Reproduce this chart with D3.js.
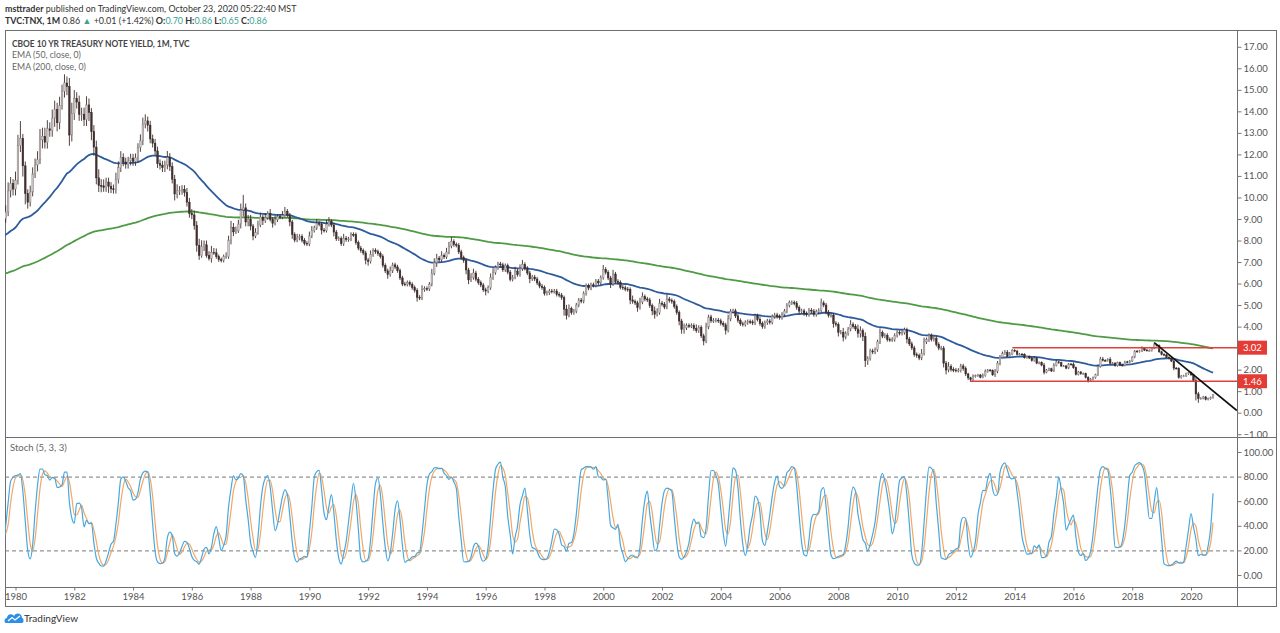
<!DOCTYPE html>
<html>
<head>
<meta charset="utf-8">
<script src="https://cdn.jsdelivr.net/npm/d3@7"></script>
<style>
  body { margin: 0; background: #fff; }
  svg text { font-family: "Lato", "Open Sans", sans-serif; }
</style>
</head>
<body>
<script>
// ---- data (monthly, first row is 1979) ----
var firstYear = 1979;

var closes = [
  [9.10, 9.10, 9.12, 9.18, 9.25, 8.91, 8.95, 9.03, 9.33, 10.30, 10.65, 10.39],
  [10.80, 12.41, 12.75, 11.47, 10.18, 9.78, 10.25, 11.10, 11.51, 11.75, 12.68, 12.84],
  [12.57, 13.19, 13.12, 13.68, 14.10, 13.47, 14.28, 14.94, 15.32, 15.15, 12.90, 13.90],
  [14.59, 14.43, 13.86, 13.87, 13.62, 14.30, 13.95, 13.06, 12.34, 10.91, 10.55, 10.54],
  [10.46, 10.72, 10.51, 10.40, 10.38, 10.85, 11.38, 11.85, 11.65, 11.54, 11.69, 11.83],
  [11.67, 11.84, 12.32, 12.63, 13.41, 13.56, 13.36, 12.72, 12.52, 12.16, 11.57, 11.50],
  [11.38, 11.51, 11.86, 11.43, 10.85, 10.16, 10.31, 10.33, 10.37, 10.24, 9.78, 9.26],
  [9.19, 8.70, 7.78, 7.30, 7.71, 7.80, 7.30, 7.17, 7.45, 7.43, 7.25, 7.11],
  [7.08, 7.25, 7.25, 8.02, 8.61, 8.40, 8.45, 8.76, 9.42, 9.52, 8.86, 8.99],
  [8.67, 8.21, 8.37, 8.72, 9.09, 8.92, 9.06, 9.26, 8.98, 8.80, 8.96, 9.11],
  [9.09, 9.17, 9.36, 9.18, 8.86, 8.28, 8.02, 8.11, 8.19, 8.01, 7.87, 7.84],
  [8.21, 8.47, 8.59, 8.79, 8.76, 8.48, 8.47, 8.75, 8.89, 8.72, 8.39, 8.08],
  [8.09, 7.85, 8.11, 8.04, 8.07, 8.28, 8.27, 7.90, 7.65, 7.53, 7.42, 7.09],
  [7.03, 7.34, 7.54, 7.48, 7.39, 7.26, 6.84, 6.59, 6.42, 6.59, 6.87, 6.77],
  [6.60, 6.26, 5.98, 5.97, 6.04, 5.96, 5.81, 5.68, 5.36, 5.33, 5.72, 5.77],
  [5.75, 5.97, 6.48, 6.97, 7.18, 7.10, 7.30, 7.24, 7.46, 7.74, 7.96, 7.81],
  [7.78, 7.47, 7.20, 7.06, 6.63, 6.17, 6.28, 6.49, 6.20, 6.04, 5.93, 5.71],
  [5.65, 5.81, 6.27, 6.51, 6.74, 6.91, 6.87, 6.64, 6.83, 6.53, 6.20, 6.30],
  [6.58, 6.42, 6.69, 6.89, 6.71, 6.49, 6.22, 6.30, 6.21, 6.03, 5.88, 5.81],
  [5.54, 5.57, 5.65, 5.64, 5.65, 5.50, 5.46, 5.34, 4.81, 4.53, 4.83, 4.65],
  [4.72, 5.00, 5.23, 5.18, 5.54, 5.90, 5.79, 5.94, 5.92, 6.11, 6.03, 6.28],
  [6.66, 6.52, 6.26, 5.99, 6.44, 6.10, 6.05, 5.83, 5.80, 5.74, 5.72, 5.24],
  [5.16, 5.10, 4.89, 5.14, 5.39, 5.28, 5.24, 4.97, 4.73, 4.57, 4.65, 5.09],
  [5.04, 4.91, 5.28, 5.21, 5.16, 4.93, 4.65, 4.26, 3.87, 3.94, 4.05, 4.03],
  [4.05, 3.90, 3.81, 3.96, 3.57, 3.33, 3.98, 4.45, 4.27, 4.29, 4.30, 4.27],
  [4.15, 4.08, 3.83, 4.35, 4.72, 4.73, 4.50, 4.28, 4.13, 4.10, 4.19, 4.23],
  [4.22, 4.17, 4.50, 4.34, 4.14, 4.00, 4.18, 4.26, 4.20, 4.46, 4.54, 4.47],
  [4.42, 4.57, 4.72, 4.99, 5.11, 5.11, 5.09, 4.88, 4.72, 4.73, 4.60, 4.56],
  [4.76, 4.72, 4.56, 4.69, 4.75, 5.10, 5.00, 4.67, 4.52, 4.53, 4.15, 4.10],
  [3.74, 3.74, 3.51, 3.68, 3.88, 4.10, 4.01, 3.89, 3.69, 3.81, 3.53, 2.42],
  [2.52, 2.87, 2.82, 2.93, 3.29, 3.72, 3.56, 3.59, 3.40, 3.39, 3.40, 3.59],
  [3.73, 3.69, 3.73, 3.85, 3.42, 3.20, 3.01, 2.70, 2.65, 2.54, 2.76, 3.29],
  [3.39, 3.58, 3.41, 3.46, 3.17, 3.00, 3.00, 2.30, 1.98, 2.15, 2.01, 1.98],
  [1.97, 1.97, 2.17, 2.05, 1.80, 1.62, 1.53, 1.68, 1.72, 1.75, 1.65, 1.72],
  [1.91, 1.98, 1.96, 1.76, 1.93, 2.30, 2.58, 2.74, 2.81, 2.62, 2.72, 2.90],
  [2.86, 2.71, 2.72, 2.71, 2.56, 2.60, 2.54, 2.42, 2.53, 2.30, 2.33, 2.21],
  [1.88, 1.98, 2.04, 1.94, 2.20, 2.36, 2.32, 2.17, 2.17, 2.07, 2.26, 2.24],
  [2.09, 1.78, 1.89, 1.81, 1.81, 1.64, 1.50, 1.56, 1.63, 1.76, 2.14, 2.49],
  [2.43, 2.42, 2.48, 2.30, 2.30, 2.19, 2.32, 2.21, 2.20, 2.36, 2.35, 2.40],
  [2.58, 2.86, 2.84, 2.87, 2.98, 2.91, 2.89, 2.89, 3.00, 3.15, 3.12, 2.83],
  [2.71, 2.68, 2.57, 2.53, 2.40, 2.07, 2.06, 1.63, 1.70, 1.71, 1.81, 1.86],
  [1.76, 1.50, 0.87, 0.66, 0.67, 0.73, 0.62, 0.65, 0.70, 0.86]
];

// wick beyond the body, in tenths of a point
var wickUp = [
  [1,1,1,1,1,2,1,1,3,4,3,2], [4,5,8,2,2,2,3,3,3,4,5,4], [4,4,3,4,4,3,4,3,4,3,4,5],
  [4,3,3,3,3,4,3,2,3,3,4,3], [3,2,2,2,2,3,3,3,2,2,2,2], [2,2,2,3,3,3,2,2,2,2,2,2],
  [2,2,3,2,2,2,3,2,2,2,2,2], [2,2,2,3,3,2,2,2,3,2,2,1], [1,1,2,2,3,2,2,2,3,6,2,2],
  [2,1,2,2,2,1,2,1,2,1,2,1], [1,2,2,1,1,1,1,2,1,1,1,1], [2,2,1,2,1,1,1,2,2,1,1,1],
  [1,1,2,1,1,1,1,1,1,1,1,1], [1,2,1,1,1,1,1,1,1,2,1,1], [1,1,1,1,1,1,1,1,1,1,2,1],
  [1,1,2,2,2,1,2,1,2,2,2,1], [1,1,1,1,1,1,2,2,1,1,1,1], [1,1,2,2,1,1,1,1,1,1,1,1],
  [2,1,2,2,1,1,1,1,1,1,1,1], [1,1,1,1,1,1,1,1,1,2,2,1], [1,1,1,1,1,1,1,1,1,1,1,1],
  [2,1,1,1,2,1,1,1,1,1,1,1], [2,1,1,2,2,1,1,1,1,2,2,2], [1,1,2,1,1,1,1,1,1,2,1,1],
  [1,1,2,1,1,1,2,1,1,1,1,1], [1,1,1,2,1,1,1,1,1,1,1,1], [1,1,1,1,1,1,1,1,1,1,1,1],
  [1,1,1,1,1,1,1,1,1,1,1,1], [1,1,1,1,1,2,1,1,1,1,1,1], [1,1,2,1,1,2,1,1,2,2,1,2],
  [1,1,1,1,1,2,1,1,1,1,1,1], [1,1,1,1,1,1,1,1,1,1,2,2], [1,1,1,1,1,1,1,1,1,2,1,1],
  [1,1,1,1,1,0.5,0.5,1,0.5,0.5,0.5,1], [1,0.5,0.5,0.5,1,1,1,1,1,1,1,0.5],
  [0.5,0.5,0.5,0.5,0.5,0.5,0.5,0.5,1,0.5,0.5,0.5], [1,0.5,0.5,0.5,1,1,0.5,0.5,0.5,0.5,0.5,0.5],
  [1,0.5,0.5,0.5,0.5,0.5,0.5,0.5,0.5,0.5,1,1], [1,0.5,0.5,1,0.5,0.5,0.5,0.5,0.5,0.5,0.5,0.5],
  [0.5,0.5,0.5,0.5,1,0.5,0.5,0.5,0.5,1,0.5,0.5], [0.5,0.5,0.5,0.5,0.5,0.5,0.5,0.5,0.5,0.5,0.5,0.5],
  [0.5,0.5,1,1,0.5,0.5,0.5,0.5,0.5,0]
];

var wickDown = [
  [1,1,1,1,2,1,1,1,2,2,3,3], [3,2,3,5,5,3,2,2,2,3,2,4], [3,3,3,3,4,4,3,2,3,4,5,3],
  [3,3,3,3,3,3,4,4,4,3,3,3], [2,2,3,2,2,2,2,2,2,2,2,2], [2,2,2,2,2,2,3,2,2,2,2,2],
  [2,2,2,2,2,3,2,2,2,2,2,2], [2,2,3,2,1,2,1,1,2,1,1,1], [1,1,1,1,2,2,1,1,2,3,2,2],
  [2,2,1,1,1,2,1,1,1,2,1,1], [1,1,1,1,2,2,1,1,1,1,1,1], [1,1,1,1,1,2,1,1,1,1,2,1],
  [1,1,1,1,1,1,1,1,1,1,1,2], [2,1,1,1,1,1,1,1,2,1,1,1], [1,1,1,1,1,1,1,1,2,1,1,1],
  [1,1,1,1,2,1,1,1,1,1,1,1], [1,1,1,1,2,2,1,1,1,1,1,1], [2,1,1,1,1,1,1,1,1,1,1,1],
  [1,1,1,1,1,1,2,1,1,1,1,1], [1,1,1,1,1,1,1,1,3,2,1,1], [1,1,1,1,1,1,1,1,1,1,1,1],
  [1,1,1,2,1,1,1,1,1,1,1,2], [1,1,2,1,1,1,1,1,2,2,1,1], [1,1,1,1,1,1,1,2,2,2,1,1],
  [1,1,1,1,1,2,1,1,1,1,1,1], [1,1,2,1,1,1,1,1,1,1,1,1], [1,1,1,1,1,1,1,1,1,1,1,1],
  [1,1,1,1,1,1,1,1,1,1,1,1], [1,1,1,1,1,1,1,1,1,1,2,1], [2,1,2,1,1,1,1,1,2,2,2,3],
  [2,1,1,1,1,1,1,1,1,1,1,1], [1,1,1,1,2,1,1,1,1,1,1,1], [1,1,1,1,1,1,1,2,2,1,1,1],
  [1,1,1,1,1,1,1,0.5,0.5,0.5,0.5,0.5], [0.5,0.5,0.5,0.5,1,1,1,0.5,0.5,0.5,0.5,0.5],
  [0.5,0.5,0.5,0.5,0.5,0.5,0.5,0.5,0.5,0.5,0.5,0.5], [1,0.5,0.5,0.5,0.5,0.5,0.5,0.5,0.5,0.5,0.5,0.5],
  [0.5,0.5,0.5,0.5,0.5,0.5,1,0.5,0.5,0.5,0.5,0.5], [0.5,0.5,0.5,0.5,0.5,0.5,0.5,0.5,0.5,0.5,0.5,0.5],
  [0.5,0.5,0.5,0.5,0.5,0.5,0.5,0.5,0.5,0.5,0.5,0.5], [0.5,0.5,0.5,0.5,0.5,1,0.5,0.5,0.5,0.5,0.5,0.5],
  [0.5,0.5,3,2,0.5,0.5,0.5,0.5,0.5,0.5]
];

var firstOpen = 9.05;
var emaSeeds = { fast: 7.95, slow: 6.25 }; // EMA values at the first bar
var priceTicks = d3.range(-1, 18, 1);
var stochTicks = [0, 20, 40, 60, 80, 100];
var stochBands = [20, 80];
var yearTicks = d3.range(1980, 2021, 2);
var levels = [
  { value: 3.02, from: 2013.92 },
  { value: 1.46, from: 2012.5 }
];
var trendLine = [
  { t: 2018.75, v: 3.26 },
  { t: 2021.56, v: 0.10 }
];

// ---- build bars ----
var bars = [];
closes.forEach(function (row, yi) {
  row.forEach(function (c, mi) {
    var prev = bars.length ? bars[bars.length - 1].close : firstOpen;
    var up = wickUp[yi][mi] / 10, dn = wickDown[yi][mi] / 10;
    bars.push({
      t: firstYear + yi + mi / 12,
      open: prev,
      close: c,
      high: Math.max(prev, c) + up,
      low: Math.min(prev, c) - dn
    });
  });
});

function ema(n, seed) {
  var k = 2 / (n + 1), out = [], e = seed;
  bars.forEach(function (b, i) {
    e = i === 0 ? seed : k * b.close + (1 - k) * e;
    out.push({ t: b.t, v: e });
  });
  return out;
}
var ema50 = ema(50, emaSeeds.fast);
var ema200 = ema(200, emaSeeds.slow);

// Stoch (5, 3, 3)
var raw = bars.map(function (b, i) {
  if (i < 4) return null;
  var win = bars.slice(i - 4, i + 1);
  var hh = d3.max(win, function (d) { return d.high; });
  var ll = d3.min(win, function (d) { return d.low; });
  return 100 * (b.close - ll) / (hh - ll);
});
function sma(arr, n) {
  return arr.map(function (v, i) {
    if (i < n - 1) return null;
    var w = arr.slice(i - n + 1, i + 1);
    if (w.some(function (d) { return d === null; })) return null;
    return d3.mean(w);
  });
}
var kLine = sma(raw, 3);
var dLine = sma(kLine, 3);

// ---- layout ----
var W = 1280, H = 633;
var padL = 5, padR = 1277, axisX = 1237, paneTop = 30, split = 437, stochBottom = 587, frameBottom = 607;

var svg = d3.select("body").append("svg").attr("width", W).attr("height", H);

var x = d3.scaleLinear().domain([1980, 2020]).range([15.5, 1191]);
var y = d3.scaleLinear().domain([-1.13, 17.78]).range([split, paneTop]);
var ys = d3.scaleLinear().domain([-9.76, 112.2]).range([stochBottom, split]);

var defs = svg.append("defs");
defs.append("clipPath").attr("id", "clipMain").append("rect")
  .attr("x", padL).attr("y", paneTop).attr("width", axisX - padL).attr("height", split - paneTop);
defs.append("clipPath").attr("id", "clipStoch").append("rect")
  .attr("x", padL).attr("y", split).attr("width", axisX - padL).attr("height", stochBottom - split);

// frame
var frame = svg.append("g").attr("stroke", "#6f6f6f").attr("stroke-width", 1).attr("fill", "none");
frame.append("rect").attr("x", padL + 0.5).attr("y", paneTop + 0.5)
  .attr("width", padR - padL - 1).attr("height", frameBottom - paneTop - 1);
frame.append("line").attr("x1", axisX + 0.5).attr("x2", axisX + 0.5).attr("y1", paneTop).attr("y2", frameBottom);
frame.append("line").attr("x1", padL).attr("x2", padR).attr("y1", split + 0.5).attr("y2", split + 0.5);
frame.append("line").attr("x1", padL).attr("x2", padR).attr("y1", stochBottom + 0.5).attr("y2", stochBottom + 0.5);

// ---- main pane ----
var main = svg.append("g").attr("clip-path", "url(#clipMain)");

var lineGen = d3.line().x(function (d) { return x(d.t); }).y(function (d) { return y(d.v); });

main.append("path").datum(ema200).attr("d", lineGen)
  .attr("fill", "none").attr("stroke", "#4f9a45").attr("stroke-width", 1.8);
main.append("path").datum(ema50).attr("d", lineGen)
  .attr("fill", "none").attr("stroke", "#2d5b9c").attr("stroke-width", 1.8);

var bw = 1.6;
var candle = main.append("g").selectAll("g").data(bars).join("g");
candle.append("line")
  .attr("x1", function (d) { return x(d.t); })
  .attr("x2", function (d) { return x(d.t); })
  .attr("y1", function (d) { return y(d.high); })
  .attr("y2", function (d) { return y(d.low); })
  .attr("stroke", "#3e2e2e").attr("stroke-width", 0.9);
candle.append("rect")
  .attr("x", function (d) { return x(d.t) - bw / 2; })
  .attr("width", bw)
  .attr("y", function (d) { return y(Math.max(d.open, d.close)); })
  .attr("height", function (d) { return Math.max(0.8, Math.abs(y(d.open) - y(d.close))); })
  .attr("fill", function (d) { return d.close >= d.open ? "#cfc9c9" : "#433030"; })
  .attr("stroke", function (d) { return d.close >= d.open ? "#8e8585" : "#3a2828"; })
  .attr("stroke-width", 0.5);

// support / resistance
main.selectAll(".lvl").data(levels).join("line")
  .attr("x1", function (d) { return x(d.from); })
  .attr("x2", axisX)
  .attr("y1", function (d) { return y(d.value); })
  .attr("y2", function (d) { return y(d.value); })
  .attr("stroke", "#e0403a").attr("stroke-width", 1.4);

// trend line
main.append("path").datum(trendLine).attr("d", lineGen)
  .attr("fill", "none").attr("stroke", "#111").attr("stroke-width", 1.6);

// price axis
var yAxis = svg.append("g").attr("transform", "translate(" + (axisX + 0.5) + ",0)")
  .call(d3.axisRight(y).tickValues(priceTicks).tickSize(4).tickPadding(2).tickFormat(d3.format(".2f")));
yAxis.select(".domain").remove();
yAxis.selectAll("line").attr("stroke", "#777");
yAxis.selectAll("text").attr("fill", "#555").attr("font-size", 9.5);

// level labels
var lab = svg.append("g").selectAll("g").data(levels).join("g")
  .attr("transform", function (d) { return "translate(" + (axisX + 1) + "," + y(d.value) + ")"; });
lab.append("rect").attr("x", 0).attr("y", -7).attr("width", 29).attr("height", 14).attr("fill", "#e53b35");
lab.append("text").attr("x", 14.5).attr("y", 3.5).attr("text-anchor", "middle")
  .attr("fill", "#fff").attr("font-size", 9.5)
  .text(function (d) { return d.value.toFixed(2); });

// ---- stoch pane ----
var st = svg.append("g").attr("clip-path", "url(#clipStoch)");
st.selectAll(".band").data(stochBands).join("line")
  .attr("x1", padL).attr("x2", axisX)
  .attr("y1", function (d) { return ys(d) + 0.5; })
  .attr("y2", function (d) { return ys(d) + 0.5; })
  .attr("stroke", "#787878").attr("stroke-dasharray", "4,3");

var stochGen = d3.line()
  .defined(function (d) { return d.v !== null; })
  .x(function (d) { return x(d.t); })
  .y(function (d) { return ys(d.v); })
  .curve(d3.curveMonotoneX);

st.append("path").datum(bars.map(function (b, i) { return { t: b.t, v: dLine[i] }; }))
  .attr("d", stochGen).attr("fill", "none").attr("stroke", "#f2a765").attr("stroke-width", 1.2);
st.append("path").datum(bars.map(function (b, i) { return { t: b.t, v: kLine[i] }; }))
  .attr("d", stochGen).attr("fill", "none").attr("stroke", "#47a8df").attr("stroke-width", 1.2);

var sAxis = svg.append("g").attr("transform", "translate(" + (axisX + 0.5) + ",0)")
  .call(d3.axisRight(ys).tickValues(stochTicks).tickSize(4).tickPadding(2).tickFormat(d3.format(".2f")));
sAxis.select(".domain").remove();
sAxis.selectAll("line").attr("stroke", "#777");
sAxis.selectAll("text").attr("fill", "#555").attr("font-size", 9.5);

// ---- time axis ----
var xAxis = svg.append("g").attr("transform", "translate(0," + (stochBottom + 0.5) + ")")
  .call(d3.axisBottom(x).tickValues(yearTicks).tickSize(3).tickPadding(3).tickFormat(d3.format("d")));
xAxis.select(".domain").remove();
xAxis.selectAll("line").attr("stroke", "#777");
xAxis.selectAll("text").attr("fill", "#555").attr("font-size", 9.5);

// ---- texts ----
function fit(sel, width) {
  var len = sel.node().getComputedTextLength();
  sel.attr("font-size", parseFloat(sel.attr("font-size")) * width / len);
}

var h1 = svg.append("text").attr("x", 5).attr("y", 11.5).attr("font-size", 10).attr("fill", "#333");
h1.append("tspan").attr("font-weight", "bold").text("msttrader");
h1.append("tspan").text(" published on TradingView.com, October 23, 2020 05:22:40 MST");
fit(h1, 292);

var teal = "#3aa394";
var h2 = svg.append("text").attr("x", 5).attr("y", 24).attr("font-size", 10).attr("fill", "#333");
h2.append("tspan").attr("font-weight", "bold").text("TVC:TNX, 1M");
h2.append("tspan").text(" 0.86 ");
h2.append("tspan").attr("fill", teal).text("\u25B2");
h2.append("tspan").text(" +0.01 (+1.42%) ");
[["O:", "0.70"], ["H:", "0.86"], ["L:", "0.65"], ["C:", "0.86"]].forEach(function (p, i) {
  h2.append("tspan").attr("font-weight", "bold").text((i ? " " : "") + p[0]);
  h2.append("tspan").attr("fill", teal).text(p[1]);
});
fit(h2, 262);

var legend = [
  { text: "CBOE 10 YR TREASURY NOTE YIELD, 1M, TVC", y: 46.5, w: 178, bold: true },
  { text: "EMA (50, close, 0)", y: 58, w: 69, bold: false },
  { text: "EMA (200, close, 0)", y: 69.5, w: 74, bold: false }
];
legend.forEach(function (l) {
  var t = svg.append("text").attr("x", 12).attr("y", l.y).attr("font-size", 10)
    .attr("fill", l.bold ? "#444" : "#666")
    .attr("font-weight", l.bold ? "bold" : "normal").text(l.text);
  fit(t, l.w);
});

svg.append("text").attr("x", 10).attr("y", 451).attr("font-size", 9.5).attr("fill", "#666")
  .text("Stoch (5, 3, 3)");

// TradingView logo
var logo = svg.append("g").attr("transform", "translate(5,611)");
logo.append("path")
  .attr("d", "M1,12 C-1,12 -1,7 2,7 C2,3 7,2 9,5 C11,1 17,2 17,7 C19,7 19,12 17,12 Z")
  .attr("fill", "#2a8fe6");
logo.append("path").attr("d", "M3,10 L7,6.5 L10,9 L15,5")
  .attr("fill", "none").attr("stroke", "#fff").attr("stroke-width", 1.3);
svg.append("text").attr("x", 24).attr("y", 622).attr("font-size", 10).attr("fill", "#333").text("TradingView");
</script>
</body>
</html>
